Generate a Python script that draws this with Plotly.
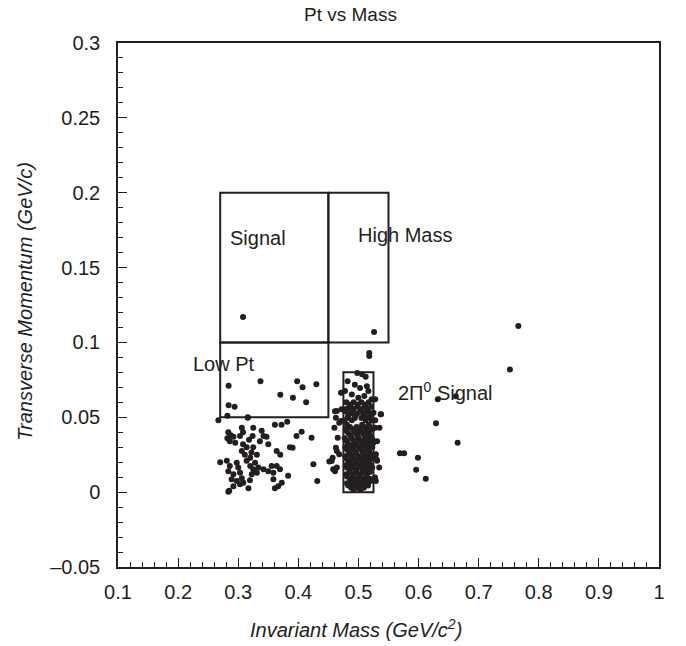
import plotly.graph_objects as go

# ---------------- data ----------------
# scattered events: invariant mass (GeV/c^2) and transverse momentum (GeV/c)
mass = [
    # signal / high-mass region
    0.308, 0.526, 0.518, 0.518,
    # right-hand outliers
    0.766, 0.752, 0.632, 0.662, 0.629, 0.665, 0.569, 0.576, 0.599, 0.596, 0.612,
    # low-pt box
    0.284, 0.337, 0.398, 0.407, 0.430, 0.370, 0.391, 0.413, 0.284, 0.294,
    0.267, 0.282, 0.316,
    # low-mass cluster
    0.2835, 0.2875, 0.282, 0.292, 0.286, 0.295, 0.306, 0.308, 0.303, 0.325,
    0.324, 0.318, 0.339, 0.342, 0.336, 0.347, 0.308, 0.314, 0.306, 0.311,
    0.325, 0.322, 0.331, 0.320, 0.350, 0.364, 0.370, 0.270, 0.281, 0.286,
    0.2835, 0.2975, 0.300, 0.292, 0.303, 0.314, 0.320, 0.328, 0.325, 0.3335,
    0.3225, 0.331, 0.342, 0.350, 0.3555, 0.364, 0.3695, 0.3585, 0.383, 0.425,
    0.4315, 0.289, 0.2975, 0.306, 0.303, 0.292, 0.3085, 0.3195, 0.317, 0.3585,
    0.3725, 0.361, 0.3665, 0.2835, 0.397, 0.4055, 0.386, 0.3905, 0.422, 0.361,
    0.372, 0.3815, 0.4515, 0.316, 0.285,
    # 2pi0 column, sparse part and edges
    0.498, 0.506, 0.512, 0.482, 0.494, 0.5027, 0.514, 0.4777, 0.471, 0.489,
    0.5165, 0.4998, 0.5098, 0.522, 0.464, 0.472, 0.486, 0.525, 0.4625, 0.471,
    0.460, 0.528, 0.531, 0.4655, 0.4625, 0.468, 0.4555, 0.464, 0.458, 0.529,
    0.5345, 0.529, 0.537, 0.528, 0.531, 0.528, 0.525, 0.468, 0.461, 0.464,
    0.5376, 0.535, 0.530, 0.5276, 0.457, 0.461,
    # 2pi0 column, dense core
    0.480, 0.492, 0.505, 0.517,
    0.485, 0.498, 0.511, 0.521,
    0.478, 0.490, 0.503, 0.514,
    0.483, 0.495, 0.508, 0.519,
    0.477, 0.489, 0.512, 0.522,
    0.481, 0.506, 0.517,
    0.479, 0.491, 0.502, 0.513, 0.523,
    0.484, 0.496, 0.508, 0.518,
    0.477, 0.489, 0.500, 0.512, 0.522,
    0.482, 0.494, 0.506, 0.517,
    0.478, 0.490, 0.501, 0.513, 0.523,
    0.484, 0.495, 0.507, 0.518,
    0.478, 0.489, 0.500, 0.512, 0.521,
    0.483, 0.495, 0.506, 0.516,
    0.479, 0.490, 0.501, 0.511, 0.520,
    0.485, 0.496, 0.507, 0.517,
    0.480, 0.491, 0.502, 0.513,
    0.486, 0.497, 0.508, 0.519,
    0.481, 0.492, 0.503, 0.514,
    0.488, 0.499, 0.509,
    # 2pi0 column, dense core (interleaved rows)
    0.487, 0.499, 0.511,
    0.480, 0.492, 0.505, 0.516,
    0.487, 0.498, 0.510, 0.522,
    0.482, 0.494, 0.505, 0.516,
    0.486, 0.497, 0.509, 0.519,
    0.481, 0.493, 0.504, 0.515,
    0.487, 0.499, 0.510, 0.520,
    0.480, 0.492, 0.503, 0.514, 0.524,
    0.486, 0.497, 0.508, 0.519,
    0.481, 0.492, 0.504, 0.515,
    0.486, 0.497, 0.509, 0.520,
    0.480, 0.491, 0.503, 0.514, 0.523,
    0.486, 0.497, 0.508, 0.518,
    0.481, 0.492, 0.504, 0.514, 0.523,
    0.486, 0.497, 0.508, 0.519,
    0.481, 0.492, 0.503, 0.514,
    0.488, 0.499, 0.510, 0.520,
    0.483, 0.494, 0.505, 0.516,
    0.492, 0.503,
]
pt = [
    0.117, 0.107, 0.093, 0.091,
    0.111, 0.082, 0.062, 0.064, 0.046, 0.033, 0.026, 0.026, 0.023, 0.015, 0.009,
    0.071, 0.074, 0.074, 0.070, 0.072, 0.065, 0.063, 0.060, 0.058, 0.057,
    0.048, 0.051, 0.050,
    0.040, 0.038, 0.036, 0.037, 0.034, 0.033, 0.043, 0.040, 0.0375, 0.043,
    0.0375, 0.035, 0.041, 0.0375, 0.034, 0.037, 0.032, 0.030, 0.0275, 0.025,
    0.030, 0.0265, 0.025, 0.023, 0.032, 0.0275, 0.025, 0.020, 0.021, 0.0175,
    0.014, 0.0197, 0.0164, 0.012, 0.013, 0.021, 0.0175, 0.0197, 0.0153, 0.0164,
    0.012, 0.013, 0.0153, 0.014, 0.0175, 0.0175, 0.0153, 0.013, 0.011, 0.0186,
    0.0075, 0.0086, 0.0075, 0.0093, 0.0053, 0.004, 0.0063, 0.008, 0.0026, 0.0086,
    0.0063, 0.0026, 0.004, 0.0003, 0.0375, 0.0404, 0.030, 0.0297, 0.0364, 0.045,
    0.045, 0.047, 0.0204, 0.0497, 0.001,
    0.0795, 0.0788, 0.077, 0.074, 0.0718, 0.0696, 0.0707, 0.0676, 0.0664, 0.0653,
    0.0676, 0.0631, 0.0642, 0.062, 0.0542, 0.0553, 0.0564, 0.053, 0.0497, 0.0475,
    0.043, 0.043, 0.034, 0.0364, 0.0297, 0.0253, 0.0208, 0.0164, 0.0153, 0.0253,
    0.0164, 0.0075, 0.052, 0.062, 0.021, 0.048, 0.033, 0.0464, 0.014, 0.0275,
    0.052, 0.043, 0.022, 0.0097, 0.023, 0.054,
    0.060, 0.060, 0.060, 0.060,
    0.057, 0.057, 0.057, 0.057,
    0.054, 0.054, 0.054, 0.054,
    0.051, 0.051, 0.051, 0.051,
    0.048, 0.048, 0.048, 0.048,
    0.045, 0.045, 0.045,
    0.042, 0.042, 0.042, 0.042, 0.042,
    0.039, 0.039, 0.039, 0.039,
    0.036, 0.036, 0.036, 0.036, 0.036,
    0.033, 0.033, 0.033, 0.033,
    0.030, 0.030, 0.030, 0.030, 0.030,
    0.027, 0.027, 0.027, 0.027,
    0.024, 0.024, 0.024, 0.024, 0.024,
    0.021, 0.021, 0.021, 0.021,
    0.018, 0.018, 0.018, 0.018, 0.018,
    0.015, 0.015, 0.015, 0.015,
    0.012, 0.012, 0.012, 0.012,
    0.009, 0.009, 0.009, 0.009,
    0.006, 0.006, 0.006, 0.006,
    0.003, 0.003, 0.003,
    0.0585, 0.0585, 0.0585,
    0.0555, 0.0555, 0.0555, 0.0555,
    0.0525, 0.0525, 0.0525, 0.0525,
    0.0495, 0.0495, 0.0495, 0.0495,
    0.0435, 0.0435, 0.0435, 0.0435,
    0.0405, 0.0405, 0.0405, 0.0405,
    0.0375, 0.0375, 0.0375, 0.0375,
    0.0345, 0.0345, 0.0345, 0.0345, 0.0345,
    0.0315, 0.0315, 0.0315, 0.0315,
    0.0285, 0.0285, 0.0285, 0.0285,
    0.0255, 0.0255, 0.0255, 0.0255,
    0.0225, 0.0225, 0.0225, 0.0225, 0.0225,
    0.0195, 0.0195, 0.0195, 0.0195,
    0.0165, 0.0165, 0.0165, 0.0165, 0.0165,
    0.0135, 0.0135, 0.0135, 0.0135,
    0.0105, 0.0105, 0.0105, 0.0105,
    0.0075, 0.0075, 0.0075, 0.0075,
    0.0045, 0.0045, 0.0045, 0.0045,
    0.0015, 0.0015,
]

# selection boxes: (x0, x1, y0, y1)
box_names = ["Signal", "High Mass", "Low Pt", "2Pi0 Signal"]
box_x0 = [0.27, 0.45, 0.27, 0.475]
box_x1 = [0.45, 0.55, 0.45, 0.525]
box_y0 = [0.10, 0.10, 0.05, 0.00]
box_y1 = [0.20, 0.20, 0.10, 0.08]

# region labels
label_text = ["Signal", "High Mass", "Low Pt", "2\u03a0<sup>0</sup> Signal"]
label_x = [0.2830, 0.4965, 0.2215, 0.5620]
label_y = [0.1697, 0.172, 0.0855, 0.067]

x_tickvals = [0.1, 0.2, 0.3, 0.4, 0.5, 0.6, 0.7, 0.8, 0.9, 1.0]
x_ticktext = ["0.1", "0.2", "0.3", "0.4", "0.5", "0.6", "0.7", "0.8", "0.9", "1"]
y_tickvals = [-0.05, 0.0, 0.05, 0.1, 0.15, 0.2, 0.25, 0.3]
y_ticktext = ["\u20130.05", "0", "0.05", "0.1", "0.15", "0.2", "0.25", "0.3"]

# ---------------- figure ----------------
FONT = "Liberation Sans, Arial, sans-serif"
INK = "#231f20"
FS = 20

fig = go.Figure()
fig.add_trace(go.Scatter(
    x=mass, y=pt, mode="markers",
    marker=dict(size=6, color=INK, line=dict(width=0)),
    showlegend=False, hoverinfo="x+y",
))

for x0, x1, y0, y1 in zip(box_x0, box_x1, box_y0, box_y1):
    fig.add_shape(type="rect", xref="x", yref="y", x0=x0, x1=x1, y0=y0, y1=y1,
                  line=dict(color=INK, width=2), fillcolor="rgba(0,0,0,0)")

for t, lx, ly in zip(label_text, label_x, label_y):
    fig.add_annotation(x=lx, y=ly, xref="x", yref="y", text=t, showarrow=False,
                       xanchor="left", yanchor="middle",
                       font=dict(family=FONT, size=FS, color=INK))

# title and axis titles (positions relative to the plot area)
fig.add_annotation(x=(350 - 118) / 541, y=1.055, xref="paper", yref="paper",
                   text="Pt vs Mass", showarrow=False, xanchor="center", yanchor="middle",
                   font=dict(family=FONT, size=19, color=INK))
fig.add_annotation(x=(356 - 118) / 541, y=-0.118, xref="paper", yref="paper",
                   text="<i>Invariant Mass (GeV/c<sup>2</sup>)</i>", showarrow=False,
                   xanchor="center", yanchor="middle",
                   font=dict(family=FONT, size=FS, color=INK))
fig.add_annotation(x=-0.172, y=0.508, xref="paper", yref="paper",
                   text="<i>Transverse Momentum (GeV/c)</i>", showarrow=False,
                   textangle=-90, xanchor="center", yanchor="middle",
                   font=dict(family=FONT, size=FS, color=INK))

fig.update_layout(
    width=686, height=646,
    margin=dict(l=118, r=27, t=43, b=79, autoexpand=False),
    paper_bgcolor="white", plot_bgcolor="white",
    font=dict(family=FONT, size=FS, color=INK),
)
fig.update_xaxes(
    range=[0.1, 1.0], tickmode="array", tickvals=x_tickvals, ticktext=x_ticktext,
    ticks="inside", ticklen=9, tickwidth=1.2, tickcolor=INK,
    minor=dict(ticks="inside", ticklen=5, tickwidth=1, tickcolor=INK,
               tickmode="linear", tick0=0.1, dtick=0.02, showgrid=False),
    showline=True, linecolor=INK, linewidth=1.5, mirror=True,
    showgrid=False, zeroline=False, ticklabelstandoff=6,
    tickfont=dict(family=FONT, size=FS, color=INK),
)
fig.update_yaxes(
    range=[-0.05, 0.3], tickmode="array", tickvals=y_tickvals, ticktext=y_ticktext,
    ticks="inside", ticklen=9, tickwidth=1.2, tickcolor=INK,
    minor=dict(ticks="inside", ticklen=5, tickwidth=1, tickcolor=INK,
               tickmode="linear", tick0=0.0, dtick=0.01, showgrid=False),
    showline=True, linecolor=INK, linewidth=1.5, mirror=True,
    showgrid=False, zeroline=False, ticklabelstandoff=12,
    tickfont=dict(family=FONT, size=FS, color=INK),
)

# remove the default page margin so the figure sits at the window's corner
fig.write_html(
    "out.html",
    config={"displayModeBar": False},
    post_script="document.body.style.margin='0';document.body.style.overflow='hidden';",
)
